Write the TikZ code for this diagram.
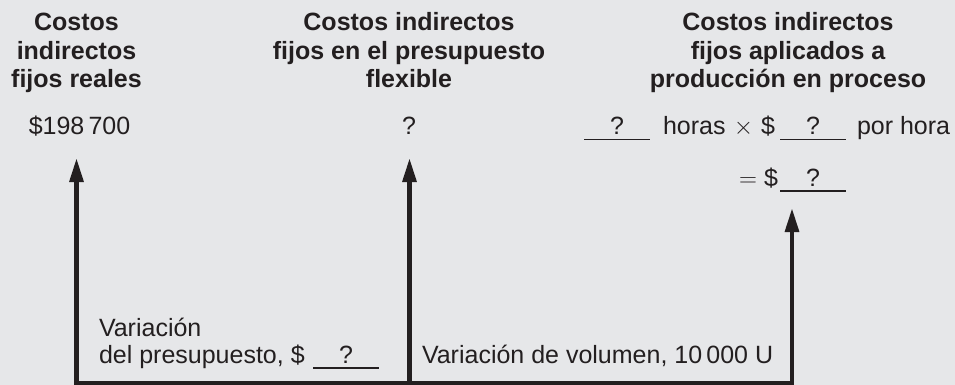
\documentclass[tikz,border=0pt]{standalone}
\usepackage{fontspec}
\setmainfont{Liberation Sans}
\usetikzlibrary{arrows.meta}
\definecolor{bgc}{HTML}{E6E7E9}
\definecolor{ink}{HTML}{231F20}
\newcommand\blankq[1][66pt]{\makebox[0pt][l]{\rule[-5.5pt]{#1}{1.9pt}}\makebox[#1]{?}}
\begin{document}
\begin{tikzpicture}[x=1pt,y=-1pt,
  every node/.style={inner sep=0pt,outer sep=0pt,text=ink,font=\fontsize{25}{28}\selectfont},
  head/.style={anchor=base,align=center,font=\fontsize{25}{28.5}\selectfont\bfseries},
  txt/.style={anchor=base west},
  ctr/.style={anchor=base},
  conn/.style={draw=ink,line width=4.5pt,line join=miter},
  tip/.style={-{Triangle[length=24pt,width=13.5pt]}}]
\useasboundingbox[fill=bgc] (0,0) rectangle (955,385);
% headers (base anchor = baseline of last line)
\node[head] (h1) at (76.5,88) {Costos\\indirectos\\fijos reales};
\node[head] (h2) at (409,88) {Costos indirectos\\fijos en el presupuesto\\flexible};
\node[head] (h3) at (788,88) {Costos indirectos\\fijos aplicados a\\producción en proceso};
% values
\node[ctr] (v1) at (79.5,135) {\$198\,700};
\node[ctr] (v2) at (409,135) {?};
\node[txt] (b1) at (584,135) {\blankq};
\node[txt] (hr) at (663,135) {horas};
\node[ctr] (tm) at (743.5,135) {$\times$};
\node[txt] (d1) at (761,135) {\$};
\node[txt] (b2) at (780,135) {\blankq};
\node[txt] (ph) at (857,135) {por hora};
\node[ctr] (eq) at (748,186) {$=$};
\node[txt] (d2) at (764,186) {\$};
\node[txt] (b3) at (780,186) {\blankq};
% bottom labels
\node[txt] (vp1) at (99,336) {Variación};
\node[txt] (vp2) at (99,363) {del presupuesto, \$};
\node[txt] (b4) at (313,363) {\blankq};
\node[txt] (vv) at (422,363) {Variación de volumen, 10\,000 U};
% connectors
\coordinate (a1t) at (76.5,158);
\coordinate (a1b) at (76.5,383.5);
\coordinate (a2t) at (409.5,158);
\coordinate (a2b) at (409.5,383.5);
\coordinate (a3t) at (792,208);
\coordinate (a3b) at (792,383.5);
\draw[conn,{Triangle[length=24pt,width=13.5pt]}-{Triangle[length=24pt,width=13.5pt]}] (a1t) -- (a1b) -- (a3b) -- (a3t);
\draw[conn,tip] (a2b) -- (a2t);
\end{tikzpicture}
\end{document}
